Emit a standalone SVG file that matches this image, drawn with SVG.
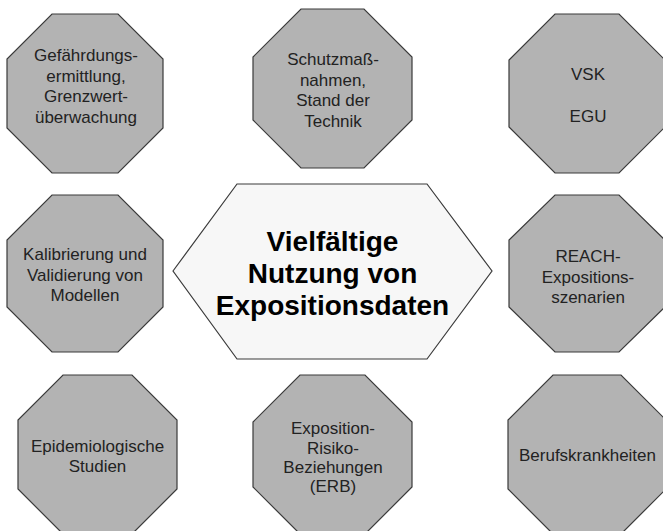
<svg xmlns="http://www.w3.org/2000/svg" width="663" height="531" viewBox="0 0 663 531">
<style>
.oct{fill:#b3b3b3;stroke:#3a3a3a;stroke-width:1.2}
.hex{fill:#f7f7f7;stroke:#3a3a3a;stroke-width:1.2}
.t{font-family:"Liberation Sans",Arial,sans-serif;font-size:17px;fill:#222;text-anchor:middle}
.c{font-family:"Liberation Sans",Arial,sans-serif;font-size:28px;font-weight:bold;fill:#000;text-anchor:middle}
</style>
<rect width="663" height="531" fill="#fff"/>
<g id="connectors"></g>
<g id="n-gefaehrdung">
<polygon class="oct" points="52,14 118,14 163,59 163,128 118,173 52,173 7,128 7,59"/>
<text class="t" x="86" y="61">Gefährdungs-</text>
<text class="t" x="86" y="81.5">ermittlung,</text>
<text class="t" x="86" y="102">Grenzwert-</text>
<text class="t" x="86" y="122.5">überwachung</text>
</g>
<g id="n-schutz">
<polygon class="oct" points="301,9 364,9 412,57 412,120 364,168 301,168 253,120 253,57"/>
<text class="t" x="333" y="65">Schutzmaß-</text>
<text class="t" x="333" y="85.5">nahmen,</text>
<text class="t" x="333" y="106">Stand der</text>
<text class="t" x="333" y="126.5">Technik</text>
</g>
<g id="n-vsk">
<polygon class="oct" points="555,14 619,14 665,60 665,127 619,173 555,173 509,127 509,60"/>
<text class="t" x="588" y="80">VSK</text>
<text class="t" x="588" y="121.5">EGU</text>
</g>
<g id="n-kalibrierung">
<polygon class="oct" points="52,195 118,195 163,240 163,307 118,352 52,352 7,307 7,240"/>
<text class="t" x="85" y="260">Kalibrierung und</text>
<text class="t" x="85" y="280.5">Validierung von</text>
<text class="t" x="85" y="301">Modellen</text>
</g>
<g id="n-center">
<polygon class="hex" points="173,271 237,184 427,184 492,271 427,359 237,359"/>
<text class="c" x="332.5" y="251">Vielfältige</text>
<text class="c" x="332.5" y="283">Nutzung von</text>
<text class="c" x="332.5" y="315">Expositionsdaten</text>
</g>
<g id="n-reach">
<polygon class="oct" points="555,195 619,195 665,240 665,307 619,352 555,352 509,307 509,240"/>
<text class="t" x="588" y="262">REACH-</text>
<text class="t" x="588" y="282.5">Expositions-</text>
<text class="t" x="588" y="303">szenarien</text>
</g>
<g id="n-epidemiologie">
<polygon class="oct" points="63,375 132,375 177,420 177,489 132,534 63,534 18,489 18,420"/>
<text class="t" x="97.5" y="452">Epidemiologische</text>
<text class="t" x="97.5" y="472">Studien</text>
</g>
<g id="n-erb">
<polygon class="oct" points="300,375 365,375 412,422 412,487 365,534 300,534 253,487 253,422"/>
<text class="t" x="333" y="434">Exposition-</text>
<text class="t" x="333" y="453.5">Risiko-</text>
<text class="t" x="333" y="473">Beziehungen</text>
<text class="t" x="333" y="492">(ERB)</text>
</g>
<g id="n-berufskrankheiten">
<polygon class="oct" points="553,375 621,375 666,420 666,489 621,534 553,534 508,489 508,420"/>
<text class="t" x="587.5" y="461">Berufskrankheiten</text>
</g>
</svg>
